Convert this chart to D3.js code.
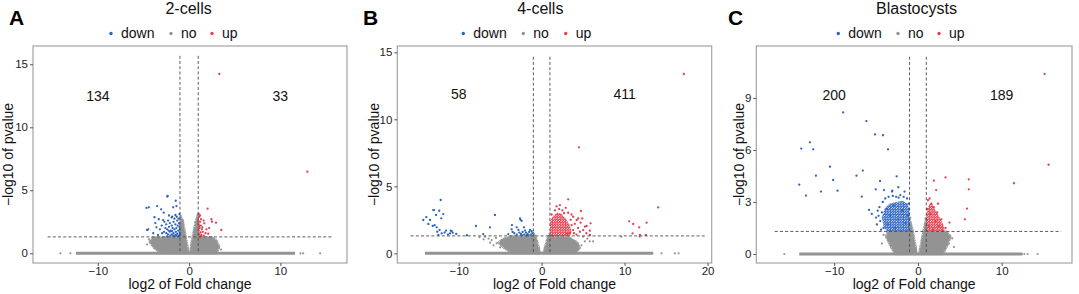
<!DOCTYPE html>
<html lang="en">
<head>
<meta charset="UTF-8">
<title>Volcano plots</title>
<script src="https://cdn.jsdelivr.net/npm/d3@7"></script>
<style>
  html, body { margin: 0; padding: 0; background: #fff; }
  svg { display: block; font-family: "Liberation Sans", Arial, sans-serif; }
</style>
</head>
<body>
<svg id="chart" width="1079" height="294"></svg>
<script>
// ---- data ----
const panelLetters = ["A", "B", "C"];
const panelTitles = ["2-cells", "4-cells", "Blastocysts"];
const legendLabels = ["down", "no", "up"];
const downCounts = [134, 58, 200];
const upCounts = [33, 411, 189];
const xTicks = [[-10, 0, 10], [-10, 0, 10, 20], [-10, 0, 10]];
const yTicks = [[0, 5, 10, 15], [0, 5, 10, 15], [0, 3, 6, 9]];
const xDomains = [[-17.1, 17.3], [-17.4, 20.5], [-19.3, 18.4]];
const yDomains = [[-0.77, 16.45], [-0.72, 15.47], [-0.52, 12.0]];
const fcCut = 1;
const pCut = -Math.log10(0.05);
const hlineRanges = [[-15.5, 15.7], [-15.8, 19.9], [-17.1, 17.1]];
const vlineTops = [15.67, 14.67, 11.38];
const countLabelX = 10;
const countLabelY = [12.5, 11.9, 9.2];
const baselineRanges = [[-12.4, 11.6], [-14.06, 13.45], [-14.17, 12.5]];

// grey "no" genes: dense clouds (outline) + scattered points
const greyCloudsA = [
  [[-0.1,0],[-3.0,0],[-3.8,0.4],[-4.3,0.9],[-4.0,1.25],[-1.0,1.28],[-0.95,2.9],[-0.7,2.6],[-0.45,1.6],[-0.2,0.6]],
  [[0.1,0],[3.0,0],[3.3,0.5],[3.0,1.0],[2.5,1.28],[1.0,1.28],[0.95,3.0],[0.7,2.4],[0.45,1.5],[0.2,0.5]]
];
const greyCloudsB = [
  [[-0.2,0],[-3.5,0],[-4.5,0.4],[-5.2,0.8],[-4.5,1.1],[-3.8,1.25],[-1.0,1.28],[-1.0,1.5],[-0.7,1.2],[-0.4,0.5]],
  [[0.2,0],[4.0,0],[4.6,0.4],[4.3,0.8],[3.8,1.0],[3.3,1.2],[1.0,1.28],[1.0,1.5],[0.7,1.1],[0.4,0.4]]
];
const greyCloudsC = [
  [[-0.15,0],[-2.7,0],[-3.2,0.4],[-3.8,1.0],[-3.6,1.28],[-1.0,1.28],[-1.0,2.0],[-0.7,1.5],[-0.35,0.6]],
  [[0.15,0],[3.0,0],[3.5,0.5],[3.9,1.0],[3.4,1.28],[1.0,1.28],[1.0,2.0],[0.7,1.4],[0.35,0.5]]
];
const greyA = [[-14.1,0],[-13.0,0],[12.2,0],[12.5,0],[14.35,0],[-4.4,1.1],[-4.0,0.9],[-3.6,1.2],[-3.2,1.0],
  [2.9,1.0],[3.2,0.6],[2.6,1.15],[-0.9,2.95],[0.95,3.05],[-0.7,2.6],[0.7,2.5],[-4.6,0.7],[3.5,0.3]];
const greyB = [[14.45,0],[16.06,0],[16.5,0],[-6.83,1.24],[-6.03,0.99],[-5.42,0.75],[-5.0,0.45],[-6.4,1.1],
  [-5.8,0.6],[-7.5,1.2],[-4.8,1.0],[-5.5,1.15],[5.2,0.9],[5.8,0.9],[6.2,0.9],[9.6,1.24],[11.8,1.24],
  [5.0,1.24],[4.8,0.6],[5.5,1.1],[-7.0,1.05],[-6.2,0.8]];
const greyC = [[-15.95,0],[12.7,0],[13.1,0],[14.3,0],[-4.1,1.1],[-3.4,0.8],[4.1,0.9],[3.7,0.6],
  [-0.9,2.1],[0.9,2.05],[-4.3,0.6],[4.3,0.4]];

// blue "down" genes
const downA = [[-2.34,4.55],[-4.67,3.6],[-4.41,3.65],[-3.5,3.75],[-1.46,4.17],[-1.39,3.75],[-3.06,3.49],
  [-2.78,3.22],[-1.75,3.65],[-3.79,2.86],[-3.32,2.7],[-2.84,2.64],[-1.86,2.9],[-1.5,3.04],[-4.6,1.85],
  [-3.57,2.06],[-3.93,1.59],[-2.95,1.59],[-4.48,1.9],[-2.4,4.5],
  [-2.7,2.5],[-2.5,2.3],[-2.3,2.6],[-2.1,2.4],[-1.9,2.2],[-1.7,2.5],[-1.5,2.3],[-1.3,2.6],[-1.1,2.4],
  [-1.05,2.1],[-2.6,2.0],[-2.4,1.9],[-2.2,2.1],[-2.0,1.8],[-1.8,2.0],[-1.6,1.9],[-1.4,2.0],[-1.2,1.8],
  [-1.0,1.9],[-2.5,1.6],[-2.3,1.5],[-2.1,1.7],[-1.9,1.5],[-1.7,1.6],[-1.5,1.45],[-1.3,1.55],[-1.1,1.4],
  [-1.02,1.65],[-1.25,2.2],[-1.45,1.7],[-1.65,1.35],[-1.85,1.75],[-2.05,1.4],[-2.25,1.8],[-2.75,1.7],
  [-3.0,2.2],[-3.2,1.9],[-1.15,2.75],[-1.35,2.9],[-1.6,2.75],[-1.9,2.85],[-2.2,3.0],[-1.05,3.1],
  [-1.2,1.35],[-1.4,1.4],[-1.0,1.5],[-1.75,1.4],[-2.4,1.35],[-3.4,1.45],[-3.7,2.4]];
const downB = [[-14.27,2.49],[-13.66,2.19],[-13.13,2.04],[-12.98,3.23],[-12.17,3.98],[-12.34,3.18],
  [-11.86,2.93],[-12.1,2.61],[-12.65,1.94],[-12.58,1.61],[-11.53,1.69],[-10.96,1.69],[-10.72,1.54],
  [-13.06,3.23],[-12.73,2.86],[-13.46,2.49],[-10.84,1.66],[-12.05,1.49],[-11.05,1.49],[-12.45,1.37],
  [-7.92,2.04],[-7.04,1.44],[-6.23,1.94],[-5.63,2.86],[-3.58,2.11],[-2.61,2.61],[-2.41,2.43],[-3.01,1.94],
  [-2.13,1.94],[-3.62,1.79],[-4.02,1.44],[-3.3,1.5],[-3.0,1.4],[-2.7,1.55],[-2.5,1.45],[-2.3,1.6],
  [-2.1,1.4],[-1.9,1.55],[-1.7,1.45],[-1.5,1.6],[-1.3,1.4],[-1.1,1.5],[-2.0,1.7],[-1.6,1.35],[-2.8,1.75],
  [-1.2,1.65],[-2.4,1.35],[-1.8,1.35],[-2.55,2.5],[-1.4,1.75],[-3.5,1.6],[-11.7,1.55],[-12.9,2.1],
  [-13.9,2.7],[-10.3,1.45],[-9.0,1.35],[-12.3,1.75],[-11.3,1.4]];
const downCloudC = [[-1.0,1.3],[-3.7,1.3],[-4.1,1.6],[-4.3,2.1],[-4.0,2.6],[-3.4,2.9],[-2.6,3.0],
  [-1.8,3.05],[-1.2,2.9],[-1.0,2.4]];
const downC = [[-8.93,8.17],[-6.15,7.67],[-5.12,6.9],[-4.17,6.85],[-12.9,6.44],[-13.93,6.08],[-12.5,6.04],
  [-3.57,6.04],[-10.5,5.04],[-6.58,4.81],[-12.18,4.52],[-7.34,4.52],[-2.54,4.48],[-10.12,4.27],[-14.17,4.0],
  [-13.37,3.37],[-11.58,3.6],[-9.6,3.65],[-4.52,4.21],[-2.34,3.85],[-6.7,3.31],[-5.04,3.73],[-4.05,3.69],
  [-3.06,3.65],[-5.83,2.54],[-5.51,2.31],
  [-4.6,2.7],[-4.7,2.2],[-4.5,1.9],[-4.2,3.0],[-3.9,3.2],[-3.5,3.3],[-3.0,3.35],[-2.6,3.3],[-2.1,3.4],
  [-1.7,3.3],[-1.3,3.2],[-1.1,2.9],[-4.1,1.5],[-4.3,2.4],[-3.7,2.6],[-3.3,2.2],[-2.9,2.8],[-2.4,2.0],
  [-1.9,2.5],[-1.5,1.8],[-3.6,1.7],[-2.7,1.5],[-1.2,2.2],[-5.0,2.1],[-3.1,3.6],[-1.6,3.6],
  [-4.9,1.7],[-4.4,1.4],[-4.8,2.5],[-2.3,3.25],[-1.05,2.6]];
// red "up" genes
const upA = [[3.31,14.23],[12.96,6.48],[2.03,3.54],[1.05,3.12],[2.44,2.7],[2.51,2.51],[2.95,2.43],[3.53,1.85],
  [1.67,2.38],[1.31,2.7],[1.1,2.9],[1.2,2.5],[1.05,2.3],[1.3,2.2],[1.15,2.0],[1.4,1.9],[1.05,1.8],
  [1.25,1.65],[1.5,1.7],[1.1,1.5],[1.35,1.45],[1.6,1.4],[1.2,1.35],[1.45,2.05],[1.8,1.6],[2.1,1.55],
  [1.02,2.55],[1.2,3.0],[1.1,2.15],[1.6,2.6],[2.2,2.0],[1.3,1.35],[1.9,1.9]];
const upCloudB = [[1.0,1.3],[1.0,2.4],[1.4,2.8],[1.9,3.05],[2.4,2.95],[2.9,2.6],[3.4,2.1],[3.6,1.6],[3.4,1.3]];
const upB = [[17.14,13.38],[4.5,7.91],[3.2,4.03],[4.73,3.16],[3.2,3.03],[3.8,2.73],[4.22,2.49],[4.7,2.29],
  [5.9,2.24],[5.42,2.04],[5.01,1.74],[5.82,1.69],[5.22,1.99],[4.61,1.61],[3.8,1.74],[3.61,2.11],[5.82,1.37],
  [14.05,3.43],[10.55,2.39],[11.04,2.19],[11.76,1.94],[12.65,2.29],[10.96,1.49],[11.84,1.37],[12.57,1.37],
  [4.0,2.2],[4.4,1.9],[3.5,2.5],[4.9,2.6],[3.4,1.5],[5.4,1.5],[4.2,1.4],[2.9,3.4],[2.5,3.2],[3.6,2.9],
  [3.1,1.45],[2.7,3.0],[1.6,3.2],[2.1,3.3],[1.2,2.9],[3.9,1.5],[4.4,2.6],[2.2,3.6],[1.8,3.5]];
const upCloudC = [[1.0,1.3],[1.0,2.3],[1.3,2.8],[1.6,3.0],[2.0,2.6],[2.6,2.1],[3.1,1.6],[3.2,1.3]];
const upC = [[15.12,10.39],[15.6,5.15],[11.47,4.08],[6.07,4.31],[3.3,4.42],[1.9,4.23],[6.07,3.73],
  [2.18,3.69],[5.87,2.62],[5.6,2.0],[3.77,1.81],[1.2,3.1],[1.4,3.2],[1.6,2.9],[1.9,2.7],[2.3,2.4],
  [2.8,2.0],[3.3,1.5],[2.9,1.4],[1.1,2.6],[1.5,2.3],[2.1,1.9],[2.5,1.6],[1.3,1.6],[1.8,1.4],[2.4,2.9]];

const greyClouds = [greyCloudsA, greyCloudsB, greyCloudsC];
const greyPts = [greyA, greyB, greyC];
const downClouds = [[], [], [downCloudC]];
const downPts = [downA, downB, downC];
const upClouds = [[], [upCloudB], [upCloudC]];
const upPts = [upA, upB, upC];

// ---- layout ----
const colors = { down: "#2c63c1", no: "#939393", up: "#e4404f" };
const frames = [
  { left: 33, right: 347, top: 46, bottom: 263, letterX: 9, titleX: 188.6, ylabX: 12.5, dots: [111, 171, 212] },
  { left: 397.3, right: 711.7, top: 46, bottom: 263, letterX: 363, titleX: 540.3, ylabX: 379, dots: [463.3, 523.3, 565.7] },
  { left: 756.3, right: 1072, top: 46, bottom: 263, letterX: 728, titleX: 916.5, ylabX: 743.5, dots: [838.3, 898, 939] }
];

const svg = d3.select("#chart");

// dotted fill patterns so dense clusters look like packed points
const defs = svg.append("defs");
["down", "up", "no"].forEach(key => {
  const p = defs.append("pattern").attr("id", "pat-" + key)
    .attr("patternUnits", "userSpaceOnUse").attr("width", 2.6).attr("height", 2.6);
  p.append("circle").attr("cx", 0.65).attr("cy", 0.65).attr("r", 1.05).attr("fill", colors[key]);
  p.append("circle").attr("cx", 1.95).attr("cy", 1.95).attr("r", 1.05).attr("fill", colors[key]);
});

frames.forEach((f, i) => {
  const x = d3.scaleLinear().domain(xDomains[i]).range([f.left, f.right]);
  const y = d3.scaleLinear().domain(yDomains[i]).range([f.bottom, f.top]);
  const g = svg.append("g");

  // panel letter, title, legend
  g.append("text").attr("x", f.letterX).attr("y", 25).attr("font-size", 21)
    .attr("font-weight", "bold").attr("fill", "#000").text(panelLetters[i]);
  g.append("text").attr("x", f.titleX).attr("y", 13.5).attr("font-size", 16)
    .attr("text-anchor", "middle").attr("fill", "#111").text(panelTitles[i]);
  legendLabels.forEach((lab, k) => {
    g.append("circle").attr("cx", f.dots[k]).attr("cy", 33.5).attr("r", 1.7)
      .attr("fill", colors[lab]);
    g.append("text").attr("x", f.dots[k] + 10).attr("y", 38.3).attr("font-size", 14)
      .attr("fill", "#111").text(lab);
  });

  // grey clouds + baseline
  const line = d3.line().x(d => x(d[0])).y(d => y(d[1]));
  greyClouds[i].forEach(poly => {
    g.append("path").attr("d", line(poly) + "Z").attr("fill", colors.no)
      .attr("stroke", "url(#pat-no)").attr("stroke-width", 2.5).attr("stroke-linejoin", "round");
  });
  g.append("line")
    .attr("x1", x(baselineRanges[i][0])).attr("x2", x(baselineRanges[i][1]))
    .attr("y1", y(0)).attr("y2", y(0))
    .attr("stroke", colors.no).attr("stroke-width", 3);
  g.selectAll(".gp").data(greyPts[i]).join("circle")
    .attr("cx", d => x(d[0])).attr("cy", d => y(d[1])).attr("r", 1.1).attr("fill", colors.no);

  // coloured clouds + points
  downClouds[i].forEach(poly => {
    g.append("path").attr("d", line(poly) + "Z").attr("fill", "url(#pat-down)");
  });
  upClouds[i].forEach(poly => {
    g.append("path").attr("d", line(poly) + "Z").attr("fill", "url(#pat-up)");
  });
  g.selectAll(".dp").data(downPts[i]).join("circle")
    .attr("cx", d => x(d[0])).attr("cy", d => y(d[1])).attr("r", 1.15).attr("fill", colors.down);
  g.selectAll(".up").data(upPts[i]).join("circle")
    .attr("cx", d => x(d[0])).attr("cy", d => y(d[1])).attr("r", 1.15).attr("fill", colors.up);

  // threshold lines
  const dash = { stroke: "#4a4a4a", "stroke-width": 0.9, "stroke-dasharray": "3,2.2" };
  const hl = g.append("line")
    .attr("x1", x(hlineRanges[i][0])).attr("x2", x(hlineRanges[i][1]))
    .attr("y1", y(pCut)).attr("y2", y(pCut));
  Object.entries(dash).forEach(([k, v]) => hl.attr(k, v));
  [-fcCut, fcCut].forEach(v => {
    const vl = g.append("line").attr("x1", x(v)).attr("x2", x(v))
      .attr("y1", y(vlineTops[i])).attr("y2", y(0));
    Object.entries(dash).forEach(([k, val]) => vl.attr(k, val));
  });

  // count labels
  g.append("text").attr("x", x(-countLabelX)).attr("y", y(countLabelY[i]) + 5)
    .attr("text-anchor", "middle").attr("font-size", 14).attr("fill", "#111").text(downCounts[i]);
  g.append("text").attr("x", x(countLabelX)).attr("y", y(countLabelY[i]) + 5)
    .attr("text-anchor", "middle").attr("font-size", 14).attr("fill", "#111").text(upCounts[i]);

  // frame
  g.append("rect").attr("x", f.left).attr("y", f.top)
    .attr("width", f.right - f.left).attr("height", f.bottom - f.top)
    .attr("fill", "none").attr("stroke", "#a3a3a3").attr("stroke-width", 1.2);

  // axes
  const fmt = d => d < 0 ? "\u2212" + Math.abs(d) : String(d);
  const xa = g.append("g").attr("transform", `translate(0,${f.bottom})`)
    .call(d3.axisBottom(x).tickValues(xTicks[i]).tickSize(3).tickPadding(1).tickFormat(fmt));
  const ya = g.append("g").attr("transform", `translate(${f.left},0)`)
    .call(d3.axisLeft(y).tickValues(yTicks[i]).tickSize(3).tickPadding(2).tickFormat(fmt));
  [xa, ya].forEach(a => {
    a.select(".domain").remove();
    a.selectAll(".tick line").attr("stroke", "#555");
    a.selectAll(".tick text").attr("font-size", 11.5).attr("fill", "#222")
      .attr("font-family", "Liberation Sans, Arial, sans-serif");
  });

  // axis titles
  g.append("text").attr("x", (f.left + f.right) / 2).attr("y", 289)
    .attr("text-anchor", "middle").attr("font-size", 14).attr("fill", "#111").text("log2 of Fold change");
  g.append("text").attr("transform", `translate(${f.ylabX},${(f.top + f.bottom) / 2}) rotate(-90)`)
    .attr("text-anchor", "middle").attr("font-size", 14).attr("fill", "#111").text("\u2212log10 of pvalue");
});
</script>
</body>
</html>
